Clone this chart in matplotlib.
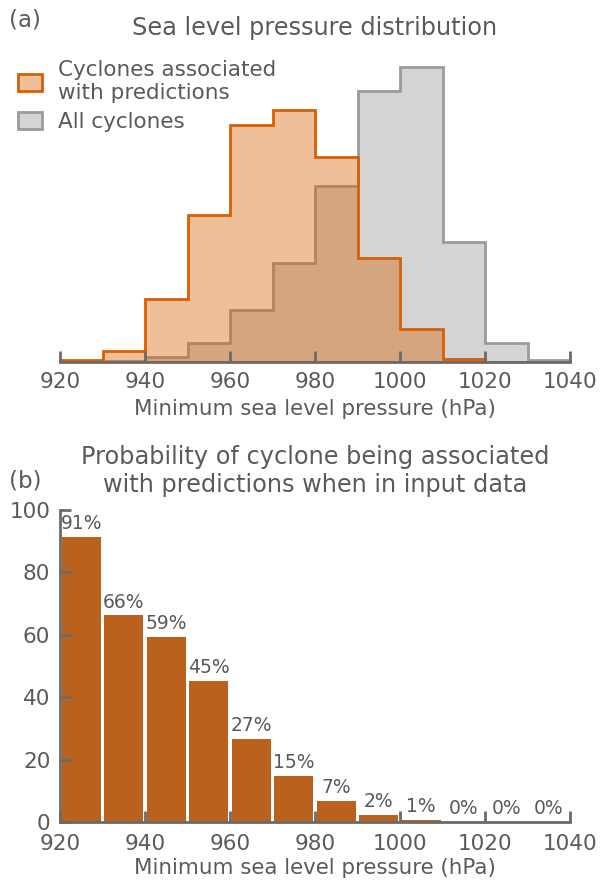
import numpy as np
import matplotlib
matplotlib.use("Agg")
import matplotlib.pyplot as plt

# bin edges (hPa)
edges = np.arange(920, 1041, 10)

# panel (a): share of cyclones per 10 hPa bin (%)
pred_pct = [0.2, 1.0, 6.0, 13.9, 22.4, 23.8, 19.4, 9.8, 3.1, 0.3, 0.0, 0.0]
all_pct = [0.0, 0.1, 0.5, 1.8, 4.9, 9.4, 16.6, 25.6, 27.9, 11.3, 1.8, 0.2]

# panel (b): probability of being associated with predictions (%)
prob_pct = [91.3, 66.2, 59.3, 45.2, 26.6, 14.8, 6.8, 2.3, 0.8, 0.0, 0.0, 0.0]

txt = "#5a5a5a"
spine_c = "#6a6a6a"
orange = "#d95f02"
bar_c = "#ba611e"

plt.rcParams["font.family"] = "DejaVu Sans"
plt.rcParams["text.color"] = txt
plt.rcParams["axes.labelcolor"] = txt
plt.rcParams["xtick.color"] = spine_c
plt.rcParams["ytick.color"] = spine_c
plt.rcParams["xtick.labelcolor"] = txt
plt.rcParams["ytick.labelcolor"] = txt

fig = plt.figure(figsize=(6.01, 8.83), dpi=100)

W, H = 601, 883
ax1 = fig.add_axes([60 / W, (H - 362) / H, 510 / W, 312 / H])
ax2 = fig.add_axes([60 / W, (H - 822) / H, 510 / W, 312 / H])

# ---- (a)
ax1.hist(edges[:-1], bins=edges, weights=all_pct, histtype="stepfilled",
         facecolor="#d4d4d4", edgecolor="#9b9b9b", linewidth=2,
         label="All cyclones")
ax1.hist(edges[:-1], bins=edges, weights=pred_pct, histtype="stepfilled",
         facecolor=(217/255, 95/255, 2/255, 0.4), edgecolor=orange, linewidth=2,
         label="Cyclones associated\nwith predictions")
ax1.set_xlim(920, 1040)
ax1.set_ylim(0, 29.5)
ax1.set_xticks(np.arange(920, 1041, 20))
ax1.set_yticks([])
for s in ["top", "right", "left"]:
    ax1.spines[s].set_visible(False)
ax1.spines["bottom"].set_color(spine_c)
ax1.spines["bottom"].set_linewidth(2)
ax1.tick_params(axis="x", direction="in", length=8, width=2, labelsize=15.5, pad=7)
ax1.set_xlabel("Minimum sea level pressure (hPa)", fontsize=15.4, labelpad=5)
ax1.set_title("Sea level pressure distribution", fontsize=17.3, pad=11, color=txt)
h, l = ax1.get_legend_handles_labels()
ax1.legend(h[::-1], l[::-1], loc="upper left", bbox_to_anchor=(-0.12, 1.03),
           frameon=False, fontsize=15.5, handlelength=1.1, handleheight=0.85,
           handletextpad=0.75, labelspacing=0.4, labelcolor=txt)
fig.text(9 / W, 1 - 20 / H, "(a)", fontsize=16.5, va="center", ha="left")

# ---- (b)
centers = edges[:-1] + 5
ax2.bar(centers, prob_pct, width=9.2, color=bar_c)
for x, v in zip(centers, prob_pct):
    ax2.text(x, v + 1.2, f"{v:.0f}%", ha="center", va="bottom", fontsize=13.5, color=txt)
ax2.set_xlim(920, 1040)
ax2.set_ylim(0, 100)
ax2.set_xticks(np.arange(920, 1041, 20))
ax2.set_yticks(np.arange(0, 101, 20))
for s in ["top", "right"]:
    ax2.spines[s].set_visible(False)
for s in ["bottom", "left"]:
    ax2.spines[s].set_color(spine_c)
    ax2.spines[s].set_linewidth(2)
ax2.tick_params(axis="both", direction="in", length=8, width=2, labelsize=15.5)
ax2.tick_params(axis="x", pad=8.5)
ax2.tick_params(axis="y", pad=7)
ax2.set_xlabel("Minimum sea level pressure (hPa)", fontsize=15.4, labelpad=3)
ax2.set_title("Probability of cyclone being associated\nwith predictions when in input data",
              fontsize=17.3, pad=13, color=txt, linespacing=1.2)
fig.text(9 / W, 1 - 481 / H, "(b)", fontsize=16.5, va="center", ha="left")

fig.savefig("out.png", dpi=100)
